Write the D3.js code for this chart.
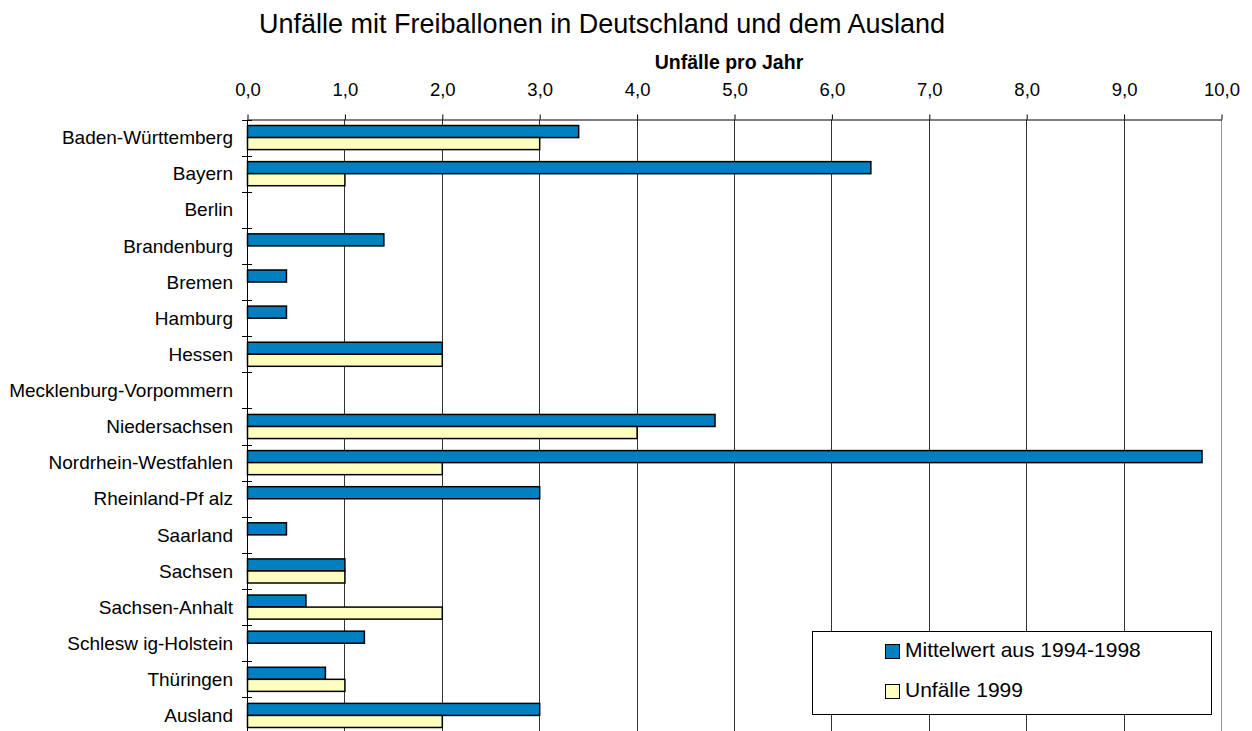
<!DOCTYPE html>
<html>
<head>
<meta charset="utf-8">
<script src="https://cdn.jsdelivr.net/npm/d3@7"></script>
<style>
  body { margin: 0; background: #fff; }
  text { font-family: "Liberation Sans", Arial, sans-serif; fill: #000; }
</style>
</head>
<body>
<svg id="chart" width="1252" height="731"></svg>
<script>
// ---------- DATA ---------- //
var laender = ['Baden-Württemberg', 'Bayern', 'Berlin', 'Brandenburg', 'Bremen', 'Hamburg',
  'Hessen', 'Mecklenburg-Vorpommern', 'Niedersachsen', 'Nordrhein-Westfahlen',
  'Rheinland-Pf alz', 'Saarland', 'Sachsen', 'Sachsen-Anhalt', 'Schlesw ig-Holstein',
  'Thüringen', 'Ausland'];
var mittelwert = [3.4, 6.4, 0, 1.4, 0.4, 0.4, 2.0, 0, 4.8, 9.8, 3.0, 0.4, 1.0, 0.6, 1.2, 0.8, 3.0];
var unfaelle1999 = [3.0, 1.0, 0, 0, 0, 0, 2.0, 0, 4.0, 2.0, 0, 0, 1.0, 2.0, 0, 1.0, 2.0];
var serien = ['Mittelwert aus 1994-1998', 'Unfälle 1999'];
var farben = ['#0080c0', '#ffffc0'];
var xTicks = [0, 1, 2, 3, 4, 5, 6, 7, 8, 9, 10];

// ---------- CHART ---------- //
var svg = d3.select('#chart');

var x = d3.scaleLinear().domain([0, 10]).range([247, 1221]);
var y = d3.scaleBand().domain(laender).range([119.5, 733.5]);
var inner = d3.scaleBand().domain(serien).range([0, y.bandwidth()]).paddingOuter(0.5);
var fmt = function (d) { return d3.format('.1f')(d).replace('.', ','); };

// title
svg.append('text')
  .attr('x', 602).attr('y', 33)
  .attr('text-anchor', 'middle')
  .style('font-size', '27px')
  .text('Unfälle mit Freiballonen in Deutschland und dem Ausland');

svg.append('text')
  .attr('x', 729).attr('y', 69)
  .attr('text-anchor', 'middle')
  .style('font-size', '19.5px').style('font-weight', 'bold')
  .text('Unfälle pro Jahr');

// gridlines
svg.append('g').selectAll('line')
  .data(xTicks.slice(1))
  .enter().append('line')
  .attr('x1', d => Math.round(x(d)) + 0.5).attr('x2', d => Math.round(x(d)) + 0.5)
  .attr('y1', 119.5).attr('y2', 731)
  .attr('stroke', d => d === 10 ? '#999' : '#333')
  .attr('stroke-width', 1);

// top axis
var xAxis = d3.axisTop(x).tickValues(xTicks).tickFormat(fmt).tickSize(5).tickSizeOuter(0);
var gx = svg.append('g').attr('transform', 'translate(0.5,119.5)').call(xAxis);
gx.select('.domain').attr('stroke', '#000');
gx.selectAll('.tick line').attr('stroke', '#000');
gx.selectAll('.tick text').style('font-size', '18.5px').attr('y', -24).attr('dy', 0);

// bars
var reihen = laender.map((l, i) => ({ land: l, werte: [mittelwert[i], unfaelle1999[i]] }));
var gruppen = svg.append('g').selectAll('g')
  .data(reihen)
  .enter().append('g')
  .attr('transform', d => 'translate(0,' + y(d.land) + ')');

gruppen.selectAll('rect')
  .data(d => d.werte.map((v, j) => ({ serie: serien[j], wert: v, j: j })).filter(e => e.wert > 0))
  .enter().append('rect')
  .attr('x', x(0) + 0.5)
  .attr('y', d => inner(d.serie))
  .attr('width', d => x(d.wert) - x(0))
  .attr('height', inner.bandwidth())
  .attr('fill', d => farben[d.j])
  .attr('stroke', '#000')
  .attr('stroke-width', 1.5);

// left axis
svg.append('line')
  .attr('x1', x(0) + 0.5).attr('x2', x(0) + 0.5)
  .attr('y1', 119.5).attr('y2', 731)
  .attr('stroke', '#000');

svg.append('g').selectAll('line')
  .data(laender)
  .enter().append('line')
  .attr('x1', x(0) - 5).attr('x2', x(0) + 5)
  .attr('y1', d => Math.round(y(d)) + 0.5).attr('y2', d => Math.round(y(d)) + 0.5)
  .attr('stroke', '#000');

svg.append('g').selectAll('text')
  .data(laender)
  .enter().append('text')
  .attr('x', 233)
  .attr('y', d => y(d) + y.bandwidth() / 2)
  .attr('dy', '0.35em')
  .attr('text-anchor', 'end')
  .style('font-size', '19px')
  .text(d => d);

// legend
var legend = svg.append('g');
legend.append('rect')
  .attr('x', 812.5).attr('y', 631.5).attr('width', 399).attr('height', 83)
  .attr('fill', '#fff').attr('stroke', '#000');

var eintraege = legend.selectAll('g')
  .data(serien)
  .enter().append('g')
  .attr('transform', (d, i) => 'translate(885,' + (644 + i * 40) + ')');

eintraege.append('rect')
  .attr('x', 0.5).attr('y', 0.5).attr('width', 14).attr('height', 14)
  .attr('fill', (d, i) => farben[i])
  .attr('stroke', '#000');

eintraege.append('text')
  .attr('x', 20).attr('y', 13)
  .style('font-size', '21px')
  .text(d => d);
</script>
</body>
</html>
